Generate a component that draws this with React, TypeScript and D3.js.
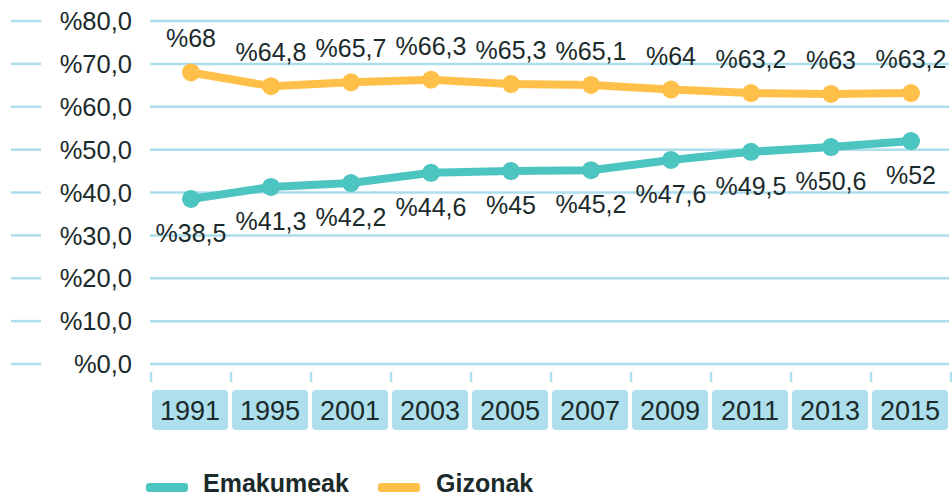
import React from "react";
import * as d3 from "d3";

const years = ["1991", "1995", "2001", "2003", "2005", "2007", "2009", "2011", "2013", "2015"];
const emakumeak = [38.5, 41.3, 42.2, 44.6, 45, 45.2, 47.6, 49.5, 50.6, 52];
const gizonak = [68, 64.8, 65.7, 66.3, 65.3, 65.1, 64, 63.2, 63, 63.2];
const yTicks = [0, 10, 20, 30, 40, 50, 60, 70, 80];
const seriesNames = ["Emakumeak", "Gizonak"];

const W = 952;
const H = 497;
const TEAL = "#4cc4bf";
const YELLOW = "#ffc04a";
const GRID = "#acdeec";
const BOX = "#addfec";
const TEXT = "#1b2a2a";
const FONT = "'Liberation Sans', Arial, sans-serif";

const fmt = (v: number) => "%" + String(v).replace(".", ",");
const fmtTick = (v: number) => "%" + v.toFixed(1).replace(".", ",");

export default function App() {
  const x = d3.scaleBand<string>().domain(years).range([151, 951]).padding(0);
  const y = d3.scaleLinear().domain([0, 80]).range([364, 21]);
  const cx = (yr: string) => (x(yr) as number) + x.bandwidth() / 2;

  const line = d3
    .line<number>()
    .x((_, i) => cx(years[i]))
    .y((d) => y(d));

  const series = [
    { name: seriesNames[0], values: emakumeak, color: TEAL, above: false },
    { name: seriesNames[1], values: gizonak, color: YELLOW, above: true },
  ];

  const edges = years.map((yr) => x(yr) as number).concat([x.range()[1]]);

  return (
    <div style={{ position: "fixed", left: 0, top: 0 }}>
      <svg width={W} height={H} style={{ display: "block", background: "#fff" }} fontFamily={FONT}>
        {/* gridlines */}
        {yTicks.map((t) => (
          <g key={t}>
            <line x1={11} x2={41} y1={y(t)} y2={y(t)} stroke={GRID} strokeWidth={2.5} />
            <line x1={150} x2={949} y1={y(t)} y2={y(t)} stroke={GRID} strokeWidth={2.5} />
            <text
              x={132}
              y={y(t)}
              dy="0.36em"
              textAnchor="end"
              fontSize={25.5}
              fill={TEXT}
            >
              {fmtTick(t)}
            </text>
          </g>
        ))}
        {/* x ticks */}
        {edges.map((e, i) => (
          <line key={i} x1={e} x2={e} y1={372} y2={382} stroke={GRID} strokeWidth={2.5} />
        ))}
        {/* category boxes */}
        {years.map((yr) => (
          <g key={yr}>
            <rect
              x={(x(yr) as number) + 1}
              y={390}
              width={x.bandwidth() - 4}
              height={40}
              rx={4}
              fill={BOX}
            />
            <text
              x={(x(yr) as number) + 1 + (x.bandwidth() - 4) / 2}
              y={420}
              textAnchor="middle"
              fontSize={27}
              fill={TEXT}
            >
              {yr}
            </text>
          </g>
        ))}
        {/* series */}
        {series.map((s) => (
          <g key={s.name}>
            <path d={line(s.values) as string} fill="none" stroke={s.color} strokeWidth={8} strokeLinejoin="round" />
            {s.values.map((v, i) => (
              <circle key={i} cx={cx(years[i])} cy={y(v)} r={9} fill={s.color} />
            ))}
            {s.values.map((v, i) => (
              <text
                key={"t" + i}
                x={cx(years[i])}
                y={s.above ? y(v) - 25 : y(v) + 43}
                textAnchor="middle"
                fontSize={25}
                fill={TEXT}
              >
                {fmt(v)}
              </text>
            ))}
          </g>
        ))}
        {/* legend */}
        <rect x={146} y={483} width={42} height={9} rx={3} fill={TEAL} />
        <text x={203} y={492} fontSize={25} fontWeight="bold" fill={TEXT}>
          {seriesNames[0]}
        </text>
        <rect x={378} y={483} width={42} height={9} rx={3} fill={YELLOW} />
        <text x={436} y={492} fontSize={25} fontWeight="bold" fill={TEXT}>
          {seriesNames[1]}
        </text>
      </svg>
    </div>
  );
}
